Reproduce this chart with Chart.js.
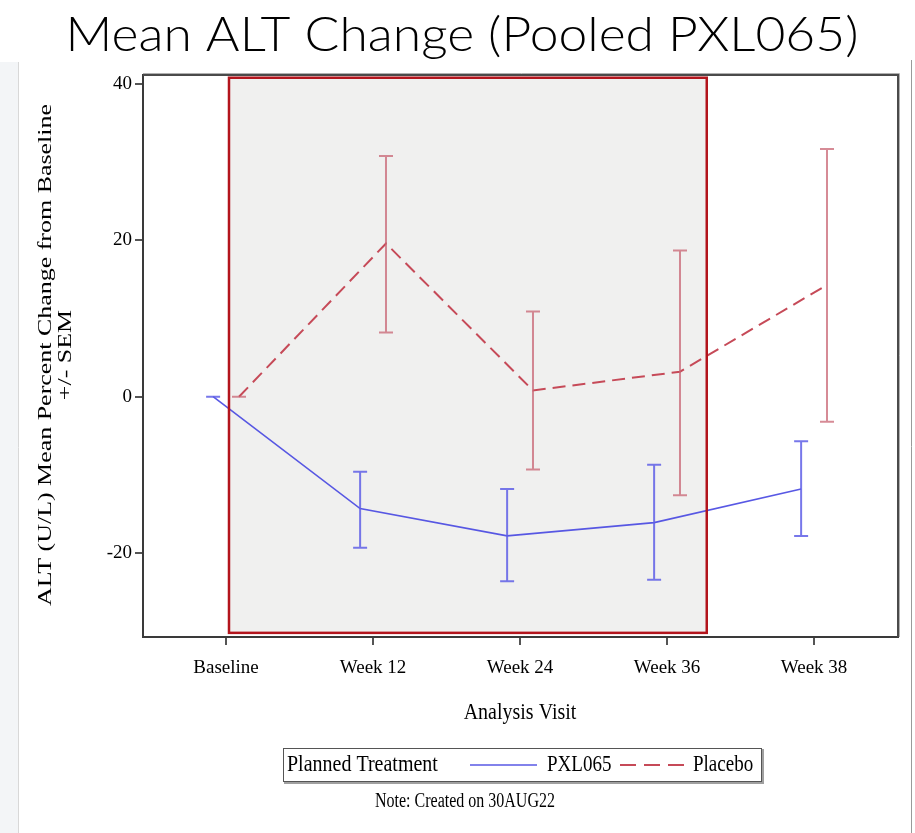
<!DOCTYPE html>
<html>
<head>
<meta charset="utf-8">
<script src="https://cdn.jsdelivr.net/npm/chart.js@4.4.1/dist/chart.umd.min.js"></script>
<style>
  html, body { margin: 0; padding: 0; background: #fff; }
  canvas { display: block; }
</style>
</head>
<body>
<canvas id="altChart" width="915" height="833"></canvas>
<script>
// ---- data ----
const visits = ['Baseline', 'Week 12', 'Week 24', 'Week 36', 'Week 38'];
const pxlMean  = [0, -14.3, -17.8, -16.1, -11.8];
const pxlUpper = [0,  -9.6, -11.8,  -8.7,  -5.7];
const pxlLower = [0, -19.3, -23.6, -23.4, -17.8];
const pboMean  = [0,  19.6,   0.8,   3.2,  14.3];
const pboUpper = [0,  30.8,  10.9,  18.7,  31.7];
const pboLower = [0,   8.2,  -9.3, -12.6,  -3.2];
const yTicks = [-20, 0, 20, 40];

// shaded window (data units)
const shade = { x0: 0.02, x1: 3.27, y0: -30.2, y1: 40.8 };

const SERIF = "'Liberation Serif', 'Times New Roman', serif";
const BLUE = 'rgba(70, 70, 225, 0.9)';
const BLUE_ERR = 'rgba(95, 95, 230, 0.85)';
const RED = '#c64a58';
const RED_ERR = 'rgba(200, 100, 115, 0.75)';
const OFFSET = 0.088;

function stretchText(c, text, x, y, font, sx, sy, align) {
  c.save();
  c.font = font;
  c.translate(x, y);
  c.scale(sx, sy);
  c.textAlign = align || 'center';
  c.textBaseline = 'middle';
  c.fillStyle = '#000';
  c.fillText(text, 0, 0);
  c.restore();
}

const decor = {
  id: 'decor',
  beforeDraw(chart) {
    const c = chart.ctx;
    c.save();
    c.fillStyle = '#fff';
    c.fillRect(0, 0, chart.width, chart.height);
    // page edges
    c.fillStyle = '#f3f5f7';
    c.fillRect(0, 62, 18, chart.height - 62);
    c.strokeStyle = '#d8d8d8';
    c.lineWidth = 1;
    c.beginPath(); c.moveTo(18.5, 62); c.lineTo(18.5, chart.height); c.stroke();
    c.strokeStyle = '#9a9a9a';
    c.beginPath(); c.moveTo(911.5, 60); c.lineTo(911.5, chart.height); c.stroke();
    c.restore();
  },
  beforeDatasetsDraw(chart) {
    const c = chart.ctx, xs = chart.scales.x, ys = chart.scales.y;
    const l = xs.getPixelForValue(shade.x0), r = xs.getPixelForValue(shade.x1);
    const t = ys.getPixelForValue(shade.y1), b = ys.getPixelForValue(shade.y0);
    c.save();
    c.fillStyle = '#f0f0ef';
    c.fillRect(l, t, r - l, b - t);
    c.restore();
  },
  afterDatasetsDraw(chart) {
    const c = chart.ctx, xs = chart.scales.x, ys = chart.scales.y;
    const { left, right, top, bottom } = chart.chartArea;
    c.save();
    // error bars
    chart.data.datasets.forEach(ds => {
      c.strokeStyle = ds.errColor;
      c.lineWidth = 2;
      ds.data.forEach((p, i) => {
        const x = xs.getPixelForValue(p.x);
        const yh = ys.getPixelForValue(ds.hi[i]);
        const yl = ys.getPixelForValue(ds.lo[i]);
        c.beginPath();
        c.moveTo(x, yh); c.lineTo(x, yl);
        c.moveTo(x - 7, yh); c.lineTo(x + 7, yh);
        c.moveTo(x - 7, yl); c.lineTo(x + 7, yl);
        c.stroke();
      });
    });
    // shaded window border
    const l = xs.getPixelForValue(shade.x0), r = xs.getPixelForValue(shade.x1);
    const t = ys.getPixelForValue(shade.y1), b = ys.getPixelForValue(shade.y0);
    c.strokeStyle = '#b3141c';
    c.lineWidth = 2.5;
    c.strokeRect(l, t, r - l, b - t);
    // top / right frame
    c.strokeStyle = '#b0b0b0';
    c.lineWidth = 1;
    c.beginPath();
    c.moveTo(left, top - 1.5); c.lineTo(right + 1.5, top - 1.5); c.lineTo(right + 1.5, bottom);
    c.stroke();
    c.strokeStyle = '#4a4a4a';
    c.lineWidth = 2;
    c.beginPath();
    c.moveTo(left, top); c.lineTo(right, top); c.lineTo(right, bottom);
    c.stroke();
    c.restore();
  },
  afterDraw(chart) {
    const c = chart.ctx;
    c.save();
    // title
    const titleFont = "300 48px Lato, 'Open Sans', sans-serif";
    c.font = titleFont;
    const tw = c.measureText('Mean ALT Change (Pooled PXL065)').width;
    stretchText(c, 'Mean ALT Change (Pooled PXL065)', 462, 36, titleFont, 793 / tw, 1, 'center');

    // y axis title, two rotated lines
    const l1 = 'ALT (U/L) Mean Percent Change from Baseline';
    const l2 = '+/- SEM';
    c.font = '19px ' + SERIF;
    const s = 502 / c.measureText(l1).width;
    c.translate(46, 355);
    c.rotate(-Math.PI / 2);
    c.scale(s, 1);
    c.textAlign = 'center';
    c.textBaseline = 'middle';
    c.fillStyle = '#000';
    c.fillText(l1, 0, 0);
    c.fillText(l2, 0, 20);
    c.restore();

    // x axis title
    stretchText(c, 'Analysis Visit', 520, 713, '20px ' + SERIF, 1, 1.2, 'center');

    // legend box
    c.save();
    c.strokeStyle = '#a0a0a0';
    c.lineWidth = 2;
    c.beginPath();
    c.moveTo(284, 783); c.lineTo(763, 783); c.lineTo(763, 749);
    c.stroke();
    c.strokeStyle = '#555';
    c.lineWidth = 1;
    c.strokeRect(283.5, 748.5, 478, 33);
    c.restore();
    stretchText(c, 'Planned Treatment', 287, 765, '20px ' + SERIF, 1, 1.12, 'left');
    c.save();
    c.lineWidth = 1.6;
    c.strokeStyle = BLUE;
    c.beginPath(); c.moveTo(470, 765); c.lineTo(537, 765); c.stroke();
    c.strokeStyle = RED;
    c.lineWidth = 2;
    c.setLineDash([16, 8]);
    c.beginPath(); c.moveTo(620, 765); c.lineTo(684, 765); c.stroke();
    c.restore();
    stretchText(c, 'PXL065', 547, 765, '20px ' + SERIF, 0.95, 1.12, 'left');
    stretchText(c, 'Placebo', 693, 765, '20px ' + SERIF, 0.95, 1.12, 'left');

    // note
    stretchText(c, 'Note: Created on 30AUG22', 465, 802, '16px ' + SERIF, 1, 1.25, 'center');
  }
};

const ctx = document.getElementById('altChart').getContext('2d');
new Chart(ctx, {
  type: 'scatter',
  data: {
    datasets: [
      {
        label: 'PXL065',
        data: pxlMean.map((v, i) => ({ x: i - OFFSET, y: v })),
        hi: pxlUpper, lo: pxlLower, errColor: BLUE_ERR,
        showLine: true,
        borderColor: BLUE,
        borderWidth: 1.6,
        pointRadius: 0,
      },
      {
        label: 'Placebo',
        data: pboMean.map((v, i) => ({ x: i + OFFSET, y: v })),
        hi: pboUpper, lo: pboLower, errColor: RED_ERR,
        showLine: true,
        borderColor: RED,
        borderWidth: 2,
        borderDash: [13, 7],
        pointRadius: 0,
      },
    ],
  },
  options: {
    responsive: false,
    animation: false,
    layout: { padding: { left: 0, top: 75, right: 17, bottom: 0 } },
    plugins: { legend: { display: false }, tooltip: { enabled: false } },
    scales: {
      x: {
        type: 'linear',
        min: -0.565,
        max: 4.571,
        afterBuildTicks: s => { s.ticks = visits.map((_, i) => ({ value: i })); },
        afterFit: s => { s.height = 196; },
        ticks: {
          callback: v => visits[v],
          font: { family: SERIF, size: 19 },
          color: '#000',
          padding: 12,
          maxRotation: 0,
          autoSkip: false,
        },
        grid: { drawOnChartArea: false, drawTicks: true, tickLength: 8, color: '#555', lineWidth: 2 },
        border: { color: '#3a3a3a', width: 2 },
      },
      y: {
        min: -30.73,
        max: 41.15,
        afterBuildTicks: s => { s.ticks = yTicks.map(v => ({ value: v })); },
        afterFit: s => { s.width = 143; },
        ticks: {
          font: { family: SERIF, size: 19 },
          color: '#000',
          padding: 3,
        },
        grid: { drawOnChartArea: false, drawTicks: true, tickLength: 8, color: '#555', lineWidth: 2 },
        border: { color: '#3a3a3a', width: 2 },
      },
    },
  },
  plugins: [decor],
});
</script>
</body>
</html>
